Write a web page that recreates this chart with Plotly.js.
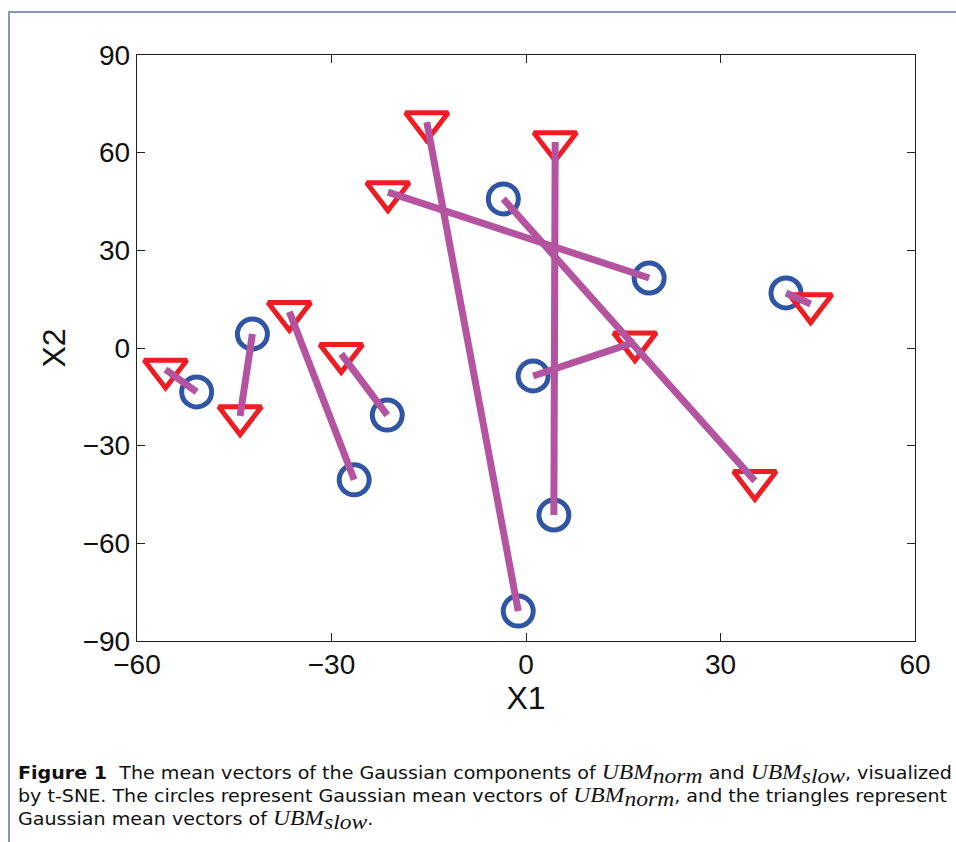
<!DOCTYPE html>
<html>
<head>
<meta charset="utf-8">
<script src="https://cdn.plot.ly/plotly-3.0.1.min.js"></script>
<style>
  html, body { margin: 0; padding: 0; background: #fff; }
  #wrap { position: relative; width: 956px; height: 842px; overflow: hidden; }
  #frame { position: absolute; left: 8px; top: 11px; width: 960px; height: 840px;
           border-top: 2px solid #8398b8; border-left: 2px solid #8398b8; }
  #chart { position: absolute; left: 0; top: 0; width: 956px; height: 842px; }
  .cap { position: absolute; left: 18px; white-space: nowrap; transform-origin: 0 0;
         font-family: "DejaVu Sans", "Liberation Sans", sans-serif; font-stretch: condensed;
         font-size: 18px; line-height: 22px; color: #111; }
  .cap i { font-family: "Liberation Serif", "DejaVu Serif", serif; font-size: 20px; }
  .cap sub { font-size: 13px; vertical-align: -4px; line-height: 1; }
</style>
</head>
<body>
<div id="wrap">
  <div id="frame"></div>
  <div id="chart"></div>
  <div class="cap" id="cap1" style="top:761px"><b>Figure 1</b>&nbsp; The mean vectors of the Gaussian components of <i>UBM</i><sub><i>norm</i></sub> and <i>UBM</i><sub><i>slow</i></sub>, visualized</div>
  <div class="cap" id="cap2" style="top:784px">by t-SNE. The circles represent Gaussian mean vectors of <i>UBM</i><sub><i>norm</i></sub>, and the triangles represent</div>
  <div class="cap" id="cap3" style="top:807px">Gaussian mean vectors of <i>UBM</i><sub><i>slow</i></sub>.</div>
</div>
<script>
// UBM_norm mean vectors (circles)
const normX = [-50.8, -42.2, -26.5, -21.4, -1.2, -3.5, 1.1, 4.3, 19.0, 40.1];
const normY = [-13.5, 4.3, -40.5, -20.6, -80.8, 45.8, -8.6, -51.3, 21.5, 16.9];
// UBM_slow mean vectors (triangles), paired by index with the circles
const slowX = [-55.6, -44.1, -36.5, -28.5, -15.3, 35.3, 16.8, 4.5, -21.3, 43.9];
const slowY = [-6.6, -20.9, 11.1, -1.8, 69.4, -40.8, 1.8, 63.3, 47.9, 13.5];
const xTicks = [-60, -30, 0, 30, 60];
const yTicks = [-90, -60, -30, 0, 30, 60, 90];

const linkX = [], linkY = [];
for (let i = 0; i < normX.length; i++) {
  linkX.push(normX[i], slowX[i], null);
  linkY.push(normY[i], slowY[i], null);
}

const traces = [
  { x: normX, y: normY, mode: 'markers', type: 'scatter', hoverinfo: 'none',
    marker: { symbol: 'circle-open', size: 30, color: '#2F55A4', line: { width: 5, color: '#2F55A4' } } },
  { x: slowX, y: slowY, mode: 'markers', type: 'scatter', hoverinfo: 'none',
    marker: { symbol: 'triangle-down-open', size: 37, color: '#EE1D24', line: { width: 5, color: '#EE1D24' } } },
  { x: linkX, y: linkY, mode: 'lines', type: 'scatter', hoverinfo: 'none',
    line: { color: '#B453A0', width: 7 } }
];

const axisFont = { family: 'Liberation Sans, Arial, sans-serif', size: 28, color: '#111' };
const titleFont = { family: 'Liberation Sans, Arial, sans-serif', size: 32, color: '#111' };
const layout = {
  width: 956, height: 842,
  paper_bgcolor: 'rgba(0,0,0,0)', plot_bgcolor: '#fff',
  showlegend: false,
  margin: { l: 137, r: 41, t: 55, b: 201 },
  xaxis: {
    range: [-60, 60], tickvals: xTicks, ticktext: xTicks.map(v => v < 0 ? '\u2212' + (-v) : String(v)),
    ticks: 'inside', ticklen: 8, tickcolor: '#222', mirror: 'ticks',
    showline: true, linecolor: '#222', linewidth: 1.2, showgrid: false, zeroline: false,
    tickfont: axisFont, ticklabelstandoff: -2,
    title: { text: 'X1', font: titleFont, standoff: 0 }
  },
  yaxis: {
    range: [-90, 90], tickvals: yTicks, ticktext: yTicks.map(v => v < 0 ? '\u2212' + (-v) : String(v)),
    ticks: 'inside', ticklen: 8, tickcolor: '#222', mirror: 'ticks',
    showline: true, linecolor: '#222', linewidth: 1.2, showgrid: false, zeroline: false,
    tickfont: axisFont,
    title: { text: 'X2', font: titleFont, standoff: 7 }
  }
};

Plotly.newPlot('chart', traces, layout, { displayModeBar: false, staticPlot: true });

// fit caption lines to the reference's line lengths
const capTargets = { cap1: 934, cap2: 929 };
for (const id in capTargets) {
  const el = document.getElementById(id);
  const w = el.getBoundingClientRect().width;
  if (w > 0) el.style.transform = 'scaleX(' + (capTargets[id] / w) + ')';
}
document.getElementById('cap3').style.transform = document.getElementById('cap1').style.transform;
</script>
</body>
</html>
